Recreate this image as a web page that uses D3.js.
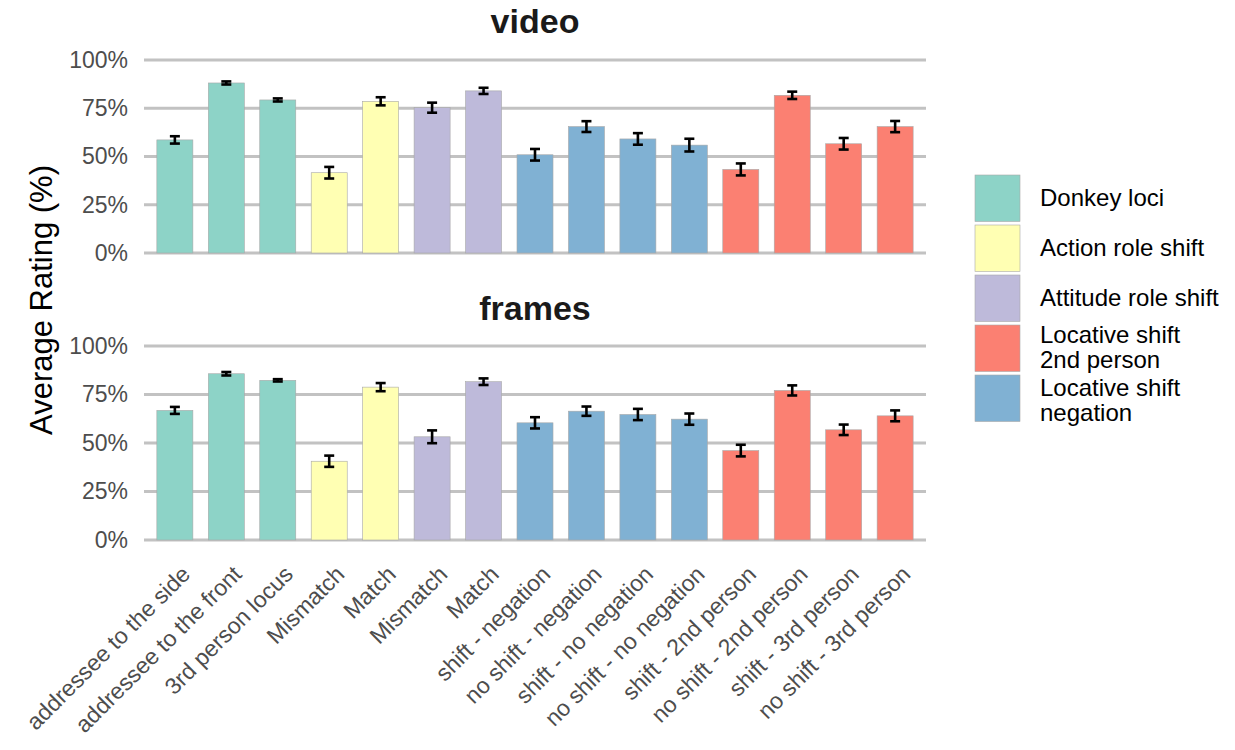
<!DOCTYPE html>
<html><head><meta charset="utf-8">
<script src="https://cdn.jsdelivr.net/npm/d3@7"></script>
<style>body{margin:0;background:#fff}svg{display:block}text{font-family:"Liberation Sans",Arial,sans-serif}</style>
</head><body>
<svg id="c" width="1235" height="750"></svg>
<script>
const categories = ["addressee to the side","addressee to the front","3rd person locus","Mismatch","Match","Mismatch","Match","shift - negation","no shift - negation","shift - no negation","no shift - no negation","shift - 2nd person","no shift - 2nd person","shift - 3rd person","no shift - 3rd person"];
const groups = ["Donkey loci","Donkey loci","Donkey loci","Action role shift","Action role shift","Attitude role shift","Attitude role shift","Locative shift negation","Locative shift negation","Locative shift negation","Locative shift negation","Locative shift 2nd person","Locative shift 2nd person","Locative shift 2nd person","Locative shift 2nd person"];
const legendGroups = ["Donkey loci","Action role shift","Attitude role shift","Locative shift 2nd person","Locative shift negation"];
const legendLabels = [["Donkey loci"],["Action role shift"],["Attitude role shift"],["Locative shift","2nd person"],["Locative shift","negation"]];
const groupColors = ["#8DD3C7","#FFFFB3","#BEBADA","#FB8072","#80B1D3"];
const panels = ["video","frames"];
const videoMeans = [58.6,88.1,79.3,41.6,78.6,75.3,84.0,50.9,65.5,59.1,55.9,43.3,81.7,56.6,65.5];
const videoErr   = [1.9,0.8,0.8,3.0,2.1,2.6,1.6,3.0,2.8,3.0,3.3,3.1,1.9,3.0,2.9];
const framesMeans = [66.8,85.7,82.3,40.6,78.8,53.2,81.6,60.4,66.4,64.7,62.3,46.1,77.1,56.8,64.0];
const framesErr   = [1.8,0.9,0.6,2.9,2.1,3.3,1.7,2.9,2.4,2.9,2.9,3.0,2.6,2.7,2.8];
const yTicks = [0,25,50,75,100];

const svg = d3.select("#c");
const x = d3.scaleBand().domain(d3.range(categories.length)).range([144,926]).paddingInner(0.3).paddingOuter(0.25);
const color = d3.scaleOrdinal().domain(legendGroups).range(groupColors);
const panelY = [[253,60],[540,346]];
const panelData = [[videoMeans,videoErr],[framesMeans,framesErr]];
const titleY = [33,320];

panels.forEach((p,pi)=>{
  const y = d3.scaleLinear().domain([0,100]).range(panelY[pi]);
  const g = svg.append("g");
  g.selectAll("line.grid").data(yTicks).join("line")
    .attr("x1",144).attr("x2",926).attr("y1",d=>y(d)).attr("y2",d=>y(d))
    .attr("stroke","#c2c2c2").attr("stroke-width",3);
  const ax = g.append("g").attr("transform","translate(144,0)")
    .call(d3.axisLeft(y).tickValues(yTicks).tickSize(0).tickPadding(16).tickFormat(d=>d+"%"));
  ax.select(".domain").remove();
  ax.selectAll("text").attr("font-size",23).attr("fill","#4d4d4d").attr("font-family","Liberation Sans, Arial, sans-serif");
  const [means,errs] = panelData[pi];
  g.selectAll("rect.bar").data(means).join("rect")
    .attr("x",(d,i)=>x(i)).attr("width",x.bandwidth())
    .attr("y",d=>y(d)).attr("height",d=>y(0)-y(d))
    .attr("fill",(d,i)=>color(groups[i])).attr("stroke","#a8a8a8").attr("stroke-width",0.6);
  const eb = g.selectAll("g.eb").data(means).join("g");
  const cw = 5;
  const cx = i=>x(i)+x.bandwidth()/2;
  eb.append("line").attr("x1",(d,i)=>cx(i)).attr("x2",(d,i)=>cx(i))
    .attr("y1",(d,i)=>y(d-errs[i])).attr("y2",(d,i)=>y(d+errs[i])).attr("stroke","#000").attr("stroke-width",2.6);
  eb.append("line").attr("x1",(d,i)=>cx(i)-cw).attr("x2",(d,i)=>cx(i)+cw)
    .attr("y1",(d,i)=>y(d-errs[i])).attr("y2",(d,i)=>y(d-errs[i])).attr("stroke","#000").attr("stroke-width",2.6);
  eb.append("line").attr("x1",(d,i)=>cx(i)-cw).attr("x2",(d,i)=>cx(i)+cw)
    .attr("y1",(d,i)=>y(d+errs[i])).attr("y2",(d,i)=>y(d+errs[i])).attr("stroke","#000").attr("stroke-width",2.6);
  svg.append("text").attr("x",535).attr("y",titleY[pi]).attr("text-anchor","middle")
    .attr("font-size",34).attr("font-weight","bold").attr("fill","#1a1a1a").text(p);
});

// x labels
svg.append("g").selectAll("text").data(categories).join("text")
  .attr("transform",(d,i)=>`translate(${x(i)+x.bandwidth()/2+5},${564}) rotate(-45)`)
  .attr("text-anchor","end").attr("dy","0.72em").attr("font-size",23).attr("fill","#4d4d4d").text(d=>d);

// y title
svg.append("text").attr("transform","translate(52,300) rotate(-90)").attr("text-anchor","middle")
  .attr("font-size",31).attr("fill","#000").text("Average Rating (%)");

// legend
const lg = svg.append("g");
const lineOffsets = [[0],[0],[0],[-13,12],[-10,15]];
legendGroups.forEach((gname,i)=>{
  const y0 = 175 + i*50;
  lg.append("rect").attr("x",975).attr("y",y0).attr("width",45).attr("height",46.5)
    .attr("fill",color(gname)).attr("stroke","#a8a8a8").attr("stroke-width",0.6);
  const lines = legendLabels[i];
  const t = lg.append("text").attr("font-size",24).attr("fill","#000");
  lines.forEach((l,li)=>{
    t.append("tspan").attr("x",1040).attr("y",y0 + 23 + lineOffsets[i][li]).attr("dy","0.35em").text(l);
  });
});
</script>
</body></html>
